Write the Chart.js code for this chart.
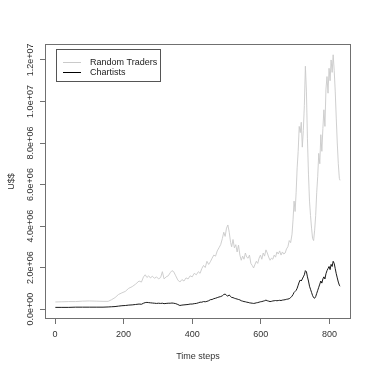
<!DOCTYPE html>
<html><head><meta charset="utf-8">
<script src="https://cdn.jsdelivr.net/npm/chart.js@4/dist/chart.umd.min.js"></script>
<style>html,body{margin:0;padding:0;background:#fff;}#wrap{width:374px;height:374px;}</style>
</head><body><div id="wrap"><canvas id="c" width="374" height="374"></canvas></div>
<script>
// time steps
const timeSteps = [1,20,40,60,80,100,120,140,155,165,175,185,195,205,215,225,235,245,252,258,263,268,273,278,284,290,296,302,308,313,318,324,330,336,341,346,352,358,364,370,376,382,388,394,400,406,412,418,423,428,433,438,443,448,453,458,463,468,473,478,483,488,492,496,500,504,508,512,515,519,523,527,531,535,539,543,547,551,555,559,563,567,571,575,579,583,587,591,595,599,603,607,611,615,619,623,627,631,635,639,643,647,651,655,659,663,667,671,675,679,683,687,691,694,697,700,703,706,709,712,715,718,721,724,727,730,733,736,739,742,745,748,751,754,757,760,763,766,769,772,775,778,781,784,787,790,793,796,799,802,805,808,811,814,817,820,823,826,829,831];
// values in millions of US$
const randomTraders = [0.34,0.35,0.36,0.36,0.38,0.39,0.38,0.37,0.37,0.45,0.55,0.70,0.78,0.85,1.00,1.08,1.20,1.35,1.30,1.55,1.65,1.52,1.60,1.50,1.58,1.48,1.55,1.45,1.52,1.80,1.45,1.55,1.60,1.75,1.85,1.80,1.60,1.40,1.30,1.42,1.35,1.50,1.45,1.60,1.55,1.72,1.65,1.80,1.72,1.95,2.10,2.00,2.30,2.15,2.28,2.45,2.60,2.55,2.80,2.95,3.10,3.40,3.70,3.50,3.90,4.05,3.70,3.20,3.00,3.35,2.95,3.10,2.75,3.08,2.60,2.35,2.55,2.40,2.70,2.50,2.45,2.60,2.20,2.10,1.98,2.15,2.30,2.20,2.45,2.60,2.40,2.70,2.55,2.85,2.70,2.50,2.35,2.45,2.40,2.60,2.50,2.75,2.65,2.80,2.60,2.75,2.65,2.70,2.90,3.00,3.30,3.20,3.60,4.30,5.20,4.70,5.60,6.80,7.60,8.80,8.50,9.00,7.80,8.60,9.80,11.70,10.50,8.20,6.50,5.20,4.50,3.90,3.40,3.30,3.80,4.50,5.60,6.40,7.50,7.00,8.40,7.60,8.70,9.60,8.80,10.60,11.20,10.40,11.60,11.00,12.00,11.40,12.25,11.50,10.50,9.20,8.00,7.00,6.30,6.20];
const chartists = [0.08,0.08,0.08,0.09,0.09,0.09,0.09,0.09,0.10,0.11,0.12,0.14,0.16,0.17,0.19,0.20,0.22,0.24,0.23,0.28,0.31,0.32,0.31,0.30,0.29,0.28,0.27,0.28,0.27,0.28,0.26,0.27,0.28,0.28,0.29,0.28,0.26,0.22,0.17,0.19,0.20,0.21,0.22,0.24,0.24,0.26,0.27,0.30,0.33,0.33,0.36,0.35,0.37,0.40,0.45,0.46,0.50,0.52,0.55,0.58,0.60,0.64,0.70,0.72,0.66,0.62,0.68,0.60,0.56,0.55,0.52,0.50,0.48,0.46,0.44,0.40,0.38,0.36,0.35,0.33,0.32,0.30,0.29,0.28,0.27,0.28,0.30,0.31,0.33,0.35,0.36,0.38,0.40,0.43,0.40,0.38,0.36,0.37,0.39,0.40,0.41,0.40,0.41,0.42,0.41,0.43,0.44,0.45,0.47,0.48,0.50,0.55,0.62,0.70,0.80,0.85,0.90,1.00,1.15,1.30,1.40,1.35,1.45,1.55,1.65,1.85,1.80,1.55,1.35,1.10,0.95,0.80,0.65,0.55,0.52,0.60,0.75,0.90,1.05,1.20,1.35,1.25,1.45,1.55,1.45,1.70,1.85,1.95,2.05,1.90,2.15,2.05,2.30,2.20,1.95,1.70,1.50,1.30,1.15,1.10];
const seriesNames = ['Random Traders','Chartists'];
const xTicks = [0,200,400,600,800];
const yTicks = [0,2e6,4e6,6e6,8e6,1e7,1.2e7];
const yTickLabels = ['0.0e+00','2.0e+06','4.0e+06','6.0e+06','8.0e+06','1.0e+07','1.2e+07'];

Chart.defaults.font.family = '"Liberation Sans", Arial, sans-serif';
Chart.defaults.font.size = 9;
Chart.defaults.color = '#333';

const toPts = arr => timeSteps.map((t,i)=>({x:t, y:arr[i]*1e6}));

const boxPlugin = {
  id:'box',
  afterDraw(chart){
    const {ctx, chartArea:a} = chart;
    ctx.save();
    ctx.strokeStyle = '#707070'; ctx.lineWidth = 1;
    ctx.strokeRect(Math.round(a.left)+0.5, Math.round(a.top)+0.5, Math.round(a.right-a.left)-1, Math.round(a.bottom-a.top)-1);
    // legend box
    const lx = a.left + 11, ly = a.top + 5;
    ctx.strokeStyle = '#555';
    ctx.strokeRect(Math.round(lx)+0.5, Math.round(ly)+0.5, 104, 32);
    ctx.font = '9px "Liberation Sans", Arial, sans-serif';
    ctx.textBaseline = 'middle'; ctx.textAlign = 'left';
    chart.data.datasets.forEach((ds,i)=>{
      const y = Math.round(ly + 13 + i*10) + 0.5;
      ctx.strokeStyle = ds.borderColor; ctx.lineWidth = 1;
      ctx.beginPath(); ctx.moveTo(lx+7, y); ctx.lineTo(lx+25, y); ctx.stroke();
      ctx.fillStyle = '#222';
      ctx.fillText(ds.label, lx+34, y);
    });
    ctx.restore();
  }
};

new Chart(document.getElementById('c'), {
  type:'line',
  data:{datasets:[
    {label:seriesNames[0], data:toPts(randomTraders), borderColor:'#cacaca', borderWidth:0.9, pointRadius:0, tension:0, fill:false},
    {label:seriesNames[1], data:toPts(chartists), borderColor:'#000000', borderWidth:0.9, pointRadius:0, tension:0, fill:false}
  ]},
  options:{
    responsive:false, animation:false, devicePixelRatio:1,
    layout:{padding:{top:44,right:23,left:0,bottom:0}},
    plugins:{legend:{display:false}, tooltip:{enabled:false}},
    scales:{
      x:{type:'linear', min:-29.2, max:863,
        afterBuildTicks:s=>{s.ticks = xTicks.map(v=>({value:v}));},
        afterFit:s=>{s.height=55;},
        ticks:{padding:5, maxRotation:0, color:'#333', callback:v=>String(v)},
        grid:{drawOnChartArea:false, tickLength:5, color:'#707070'},
        border:{display:false},
        title:{display:true, text:'Time steps', color:'#333', font:{size:9}, padding:{top:0,bottom:11.6}}
      },
      y:{type:'linear', min:-0.48e6, max:12.77e6,
        afterBuildTicks:s=>{s.ticks = yTicks.map(v=>({value:v}));},
        afterFit:s=>{s.width=45;},
        ticks:{minRotation:90, maxRotation:90, crossAlign:'center', padding:-7, color:'#333',
          callback:(v)=>{const i=yTicks.indexOf(v); return i>=0?yTickLabels[i]:'';}},
        grid:{drawOnChartArea:false, tickLength:5, color:'#707070'},
        border:{display:false},
        title:{display:true, text:'U$$', color:'#333', font:{size:9}, padding:{top:6.6,bottom:0}}
      }
    }
  },
  plugins:[boxPlugin]
});
</script></body></html>
